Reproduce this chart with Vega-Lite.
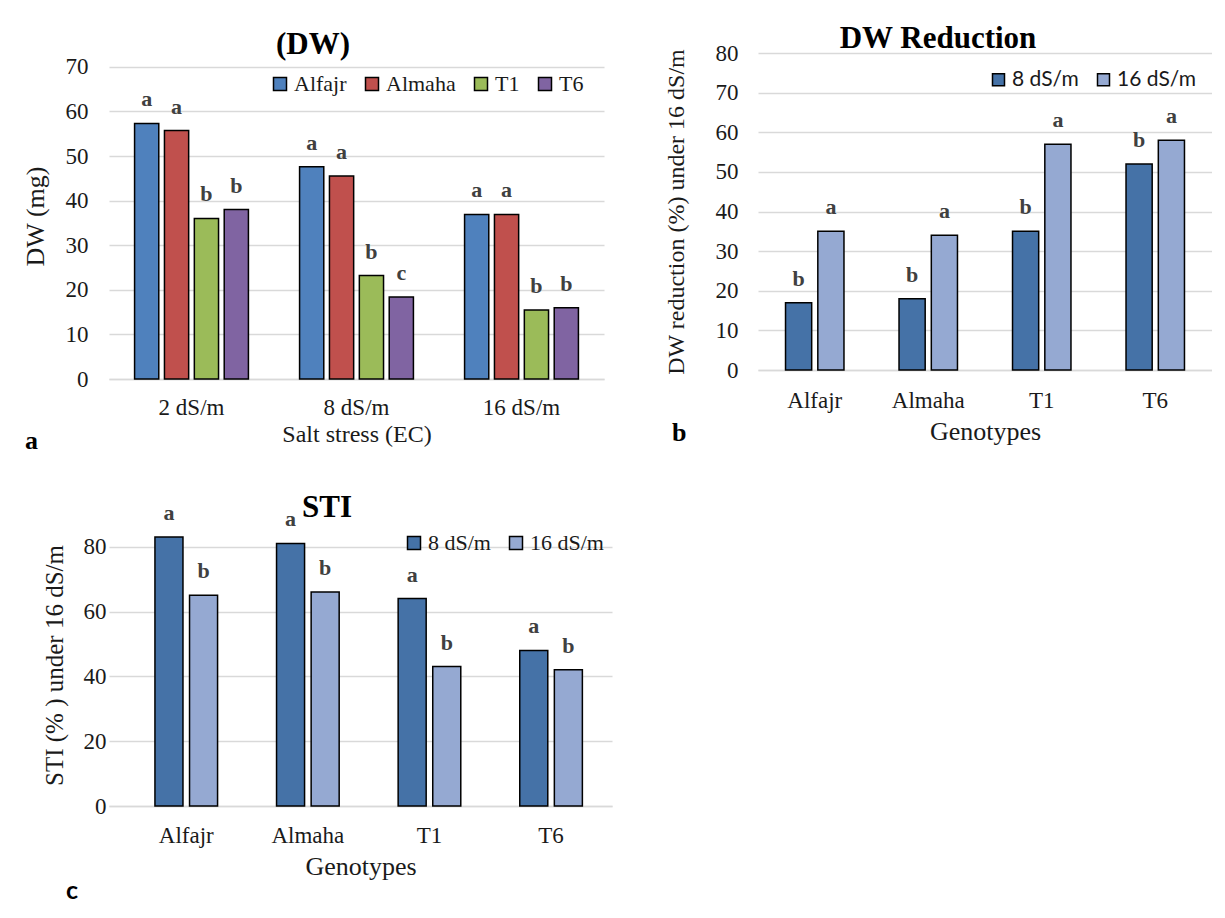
{
  "$schema": "https://vega.github.io/schema/vega-lite/v6.json",
  "background": "white",
  "padding": {"left": 22, "top": 23, "right": 0, "bottom": 0},
  "datasets": {
    "dw": [
      {"ec": "2 dS/m", "genotype": "Alfajr", "value": 57.3, "letter": "a"},
      {"ec": "2 dS/m", "genotype": "Almaha", "value": 55.7, "letter": "a"},
      {"ec": "2 dS/m", "genotype": "T1", "value": 36.0, "letter": "b"},
      {"ec": "2 dS/m", "genotype": "T6", "value": 38.0, "letter": "b"},
      {"ec": "8 dS/m", "genotype": "Alfajr", "value": 47.6, "letter": "a"},
      {"ec": "8 dS/m", "genotype": "Almaha", "value": 45.5, "letter": "a"},
      {"ec": "8 dS/m", "genotype": "T1", "value": 23.2, "letter": "b"},
      {"ec": "8 dS/m", "genotype": "T6", "value": 18.4, "letter": "c"},
      {"ec": "16 dS/m", "genotype": "Alfajr", "value": 36.9, "letter": "a"},
      {"ec": "16 dS/m", "genotype": "Almaha", "value": 36.9, "letter": "a"},
      {"ec": "16 dS/m", "genotype": "T1", "value": 15.5, "letter": "b"},
      {"ec": "16 dS/m", "genotype": "T6", "value": 16.0, "letter": "b"}
    ],
    "red": [
      {"genotype": "Alfajr", "level": "8 dS/m", "value": 17, "letter": "b"},
      {"genotype": "Alfajr", "level": "16 dS/m", "value": 35, "letter": "a"},
      {"genotype": "Almaha", "level": "8 dS/m", "value": 18, "letter": "b"},
      {"genotype": "Almaha", "level": "16 dS/m", "value": 34, "letter": "a"},
      {"genotype": "T1", "level": "8 dS/m", "value": 35, "letter": "b"},
      {"genotype": "T1", "level": "16 dS/m", "value": 57, "letter": "a"},
      {"genotype": "T6", "level": "8 dS/m", "value": 52, "letter": "b"},
      {"genotype": "T6", "level": "16 dS/m", "value": 58, "letter": "a"}
    ],
    "sti": [
      {"genotype": "Alfajr", "level": "8 dS/m", "value": 83, "letter": "a"},
      {"genotype": "Alfajr", "level": "16 dS/m", "value": 65, "letter": "b"},
      {"genotype": "Almaha", "level": "8 dS/m", "value": 81, "letter": "a"},
      {"genotype": "Almaha", "level": "16 dS/m", "value": 66, "letter": "b"},
      {"genotype": "T1", "level": "8 dS/m", "value": 64, "letter": "a"},
      {"genotype": "T1", "level": "16 dS/m", "value": 43, "letter": "b"},
      {"genotype": "T6", "level": "8 dS/m", "value": 48, "letter": "a"},
      {"genotype": "T6", "level": "16 dS/m", "value": 42, "letter": "b"}
    ]
  },
  "config": {
    "font": "Liberation Serif",
    "view": {"stroke": null},
    "axis": {
      "labelFont": "Liberation Serif",
      "titleFont": "Liberation Serif",
      "labelColor": "#1a1a1a",
      "titleColor": "#1a1a1a",
      "titleFontWeight": "normal",
      "grid": false,
      "ticks": false,
      "domain": false
    },
    "axisY": {"grid": true, "gridColor": "#D9D9D9", "gridWidth": 1.5, "labelFontSize": 23, "titleFontSize": 24, "labelPadding": 20, "titlePadding": 16},
    "axisX": {"domain": true, "domainColor": "#D9D9D9", "domainWidth": 1.5, "labelAngle": 0, "labelFontSize": 23, "titleFontSize": 24, "labelPadding": 18, "titlePadding": 5},
    "legend": {
      "orient": "top-right",
      "direction": "horizontal",
      "title": null,
      "labelFont": "Liberation Serif",
      "labelFontSize": 22,
      "labelColor": "#1a1a1a",
      "symbolType": "square",
      "symbolSize": 169,
      "symbolStrokeColor": "black",
      "symbolStrokeWidth": 1.5,
      "labelOffset": 3,
      "columnPadding": 14,
      "offset": 18
    },
    "title": {"font": "Liberation Serif", "fontSize": 31, "fontWeight": "bold", "color": "black", "frame": "bounds", "anchor": "middle", "baseline": "alphabetic"},
    "concat": {"spacing": 0}
  },
  "resolve": {"scale": {"color": "independent", "x": "independent", "xOffset": "independent", "y": "independent"}, "legend": {"color": "independent"}},
  "columns": 1,
  "align": "none",
  "spacing": 37,
  "concat": [
    {
      "resolve": {"scale": {"color": "independent", "x": "independent", "xOffset": "independent", "y": "independent"}, "legend": {"color": "independent"}},
      "hconcat": [
        {
          "title": {"text": "a", "orient": "bottom", "anchor": "start", "fontSize": 26, "offset": -18, "dx": 3},
          "resolve": {"scale": {"color": "independent", "x": "independent", "xOffset": "independent", "y": "independent"}, "legend": {"color": "independent"}},
          "vconcat": [
            {
              "width": 495,
              "height": 326,
              "title": {"text": "(DW)", "offset": -8},
              "data": {"name": "dw"},
              "encoding": {
                "x": {"field": "ec", "type": "nominal", "sort": ["2 dS/m", "8 dS/m", "16 dS/m"], "scale": {"paddingInner": 0.31, "paddingOuter": 0.155}, "axis": {"title": "Salt stress (EC)", "labelPadding": 17, "titlePadding": 3}},
                "xOffset": {"field": "genotype", "type": "nominal", "sort": ["Alfajr", "Almaha", "T1", "T6"], "scale": {"paddingInner": 0.19, "paddingOuter": 0}},
                "y": {"field": "value", "type": "quantitative", "scale": {"domain": [0, 73.1], "nice": false}, "axis": {"values": [0, 10, 20, 30, 40, 50, 60, 70], "title": "DW (mg)", "titleFontSize": 26, "labelPadding": 21, "titlePadding": 17}}
              },
              "layer": [
                {
                  "mark": {"type": "bar", "stroke": "black", "strokeWidth": 1.5},
                  "encoding": {
                    "color": {"field": "genotype", "type": "nominal", "scale": {"domain": ["Alfajr", "Almaha", "T1", "T6"], "range": ["#4F81BD", "#C0504D", "#9BBB59", "#8064A2"]}, "legend": {"orient": "top-right", "offset": 20}}
                  }
                },
                {
                  "mark": {"type": "text", "font": "Liberation Serif", "fontSize": 22, "fontWeight": "bold", "color": "#404040", "baseline": "alphabetic", "dy": -17},
                  "encoding": {"text": {"field": "letter"}}
                }
              ]
            }
          ]
        },
        {
          "title": {"text": "b", "orient": "bottom", "anchor": "start", "fontSize": 26, "offset": -24, "dx": 8},
          "resolve": {"scale": {"color": "independent", "x": "independent", "xOffset": "independent", "y": "independent"}, "legend": {"color": "independent"}},
          "vconcat": [
            {
              "width": 454,
              "height": 317,
              "title": {"text": "DW Reduction", "offset": -13},
              "data": {"name": "red"},
              "encoding": {
                "x": {"field": "genotype", "type": "nominal", "sort": ["Alfajr", "Almaha", "T1", "T6"], "scale": {"paddingInner": 0.485, "paddingOuter": 0.2425}, "axis": {"title": "Genotypes", "titleFontSize": 26, "labelPadding": 19, "titlePadding": 6}},
                "xOffset": {"field": "level", "type": "nominal", "sort": ["8 dS/m", "16 dS/m"], "scale": {"paddingInner": 0.19, "paddingOuter": 0}},
                "y": {"field": "value", "type": "quantitative", "scale": {"domain": [0, 80], "nice": false}, "axis": {"values": [0, 10, 20, 30, 40, 50, 60, 70, 80], "title": "DW reduction (%) under 16 dS/m", "titleFontSize": 24, "labelPadding": 20, "titlePadding": 27}}
              },
              "layer": [
                {
                  "mark": {"type": "bar", "stroke": "black", "strokeWidth": 1.5},
                  "encoding": {
                    "color": {"field": "level", "type": "nominal", "scale": {"domain": ["8 dS/m", "16 dS/m"], "range": ["#4572A7", "#95A9D2"]}, "legend": {"orient": "top-right", "offset": 16, "labelFont": "Lato", "labelFontSize": 21, "symbolSize": 144}}
                  }
                },
                {
                  "mark": {"type": "text", "font": "Liberation Serif", "fontSize": 22, "fontWeight": "bold", "color": "#404040", "baseline": "alphabetic", "dy": -17},
                  "encoding": {"text": {"field": "letter"}}
                }
              ]
            }
          ]
        }
      ],
      "spacing": 60
    },
    {
      "title": {"text": "c", "orient": "bottom", "anchor": "start", "fontSize": 25, "font": "Lato", "offset": 0, "dx": 24},
      "resolve": {"scale": {"color": "independent", "x": "independent", "xOffset": "independent", "y": "independent"}, "legend": {"color": "independent"}},
      "vconcat": [
        {
          "width": 503,
          "height": 282,
          "title": {"text": "STI", "offset": -22},
          "data": {"name": "sti"},
          "encoding": {
            "x": {"field": "genotype", "type": "nominal", "sort": ["Alfajr", "Almaha", "T1", "T6"], "scale": {"paddingInner": 0.485, "paddingOuter": 0.3107, "align": 0.608}, "axis": {"title": "Genotypes", "titleFontSize": 26, "labelPadding": 18, "titlePadding": 6}},
            "xOffset": {"field": "level", "type": "nominal", "sort": ["8 dS/m", "16 dS/m"], "scale": {"paddingInner": 0.19, "paddingOuter": 0}},
            "y": {"field": "value", "type": "quantitative", "scale": {"domain": [0, 87], "nice": false}, "axis": {"values": [0, 20, 40, 60, 80], "title": "STI (% ) under 16 dS/m", "titleFontSize": 25, "labelPadding": 3, "titlePadding": 16}}
          },
          "layer": [
            {
              "mark": {"type": "bar", "stroke": "black", "strokeWidth": 1.5},
              "encoding": {
                "color": {"field": "level", "type": "nominal", "scale": {"domain": ["8 dS/m", "16 dS/m"], "range": ["#4572A7", "#95A9D2"]}, "legend": {"orient": "top-right", "offset": 8}}
              }
            },
            {
              "mark": {"type": "text", "font": "Liberation Serif", "fontSize": 22, "fontWeight": "bold", "color": "#404040", "baseline": "alphabetic", "dy": -17},
              "encoding": {"text": {"field": "letter"}}
            }
          ]
        }
      ]
    }
  ]
}
